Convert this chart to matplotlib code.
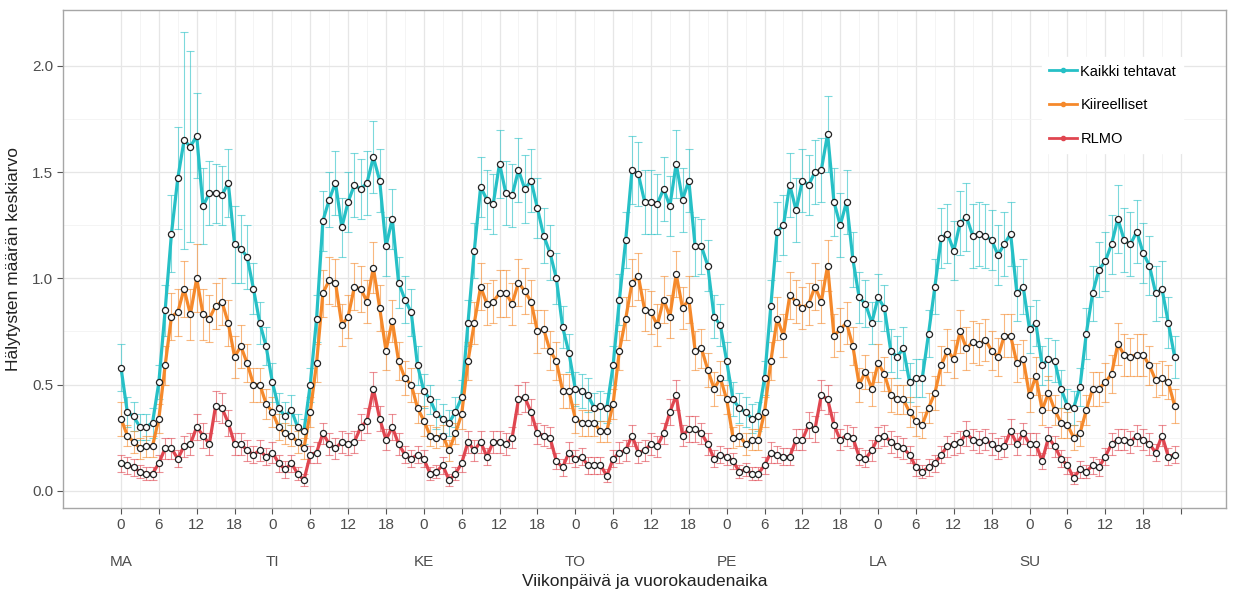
import matplotlib
matplotlib.use("Agg")
import matplotlib.pyplot as plt
from matplotlib.lines import Line2D
import numpy as np

plt.rcParams['font.family'] = ['Liberation Sans', 'DejaVu Sans']

days = ["MA", "TI", "KE", "TO", "PE", "LA", "SU"]
hour_ticks = [0, 6, 12, 18]
series_names = ["Kaikki tehtavat", "Kiireelliset", "RLMO"]
colors = ["#26C0C6", "#F5892B", "#E04650"]

# Kaikki tehtavat, one list per weekday (hours 0..23)
kaikki = [
    [0.58, 0.37, 0.35, 0.30, 0.30, 0.32, 0.51, 0.85, 1.21, 1.47, 1.65, 1.62, 1.67, 1.34, 1.40, 1.40, 1.39, 1.45, 1.16, 1.14, 1.10, 0.95, 0.79, 0.68],
    [0.51, 0.39, 0.35, 0.38, 0.30, 0.28, 0.50, 0.81, 1.27, 1.37, 1.45, 1.24, 1.36, 1.44, 1.42, 1.45, 1.57, 1.46, 1.15, 1.28, 0.98, 0.90, 0.84, 0.59],
    [0.47, 0.43, 0.36, 0.34, 0.32, 0.37, 0.44, 0.79, 1.13, 1.43, 1.37, 1.35, 1.54, 1.40, 1.39, 1.51, 1.42, 1.46, 1.33, 1.20, 1.12, 1.00, 0.77, 0.65],
    [0.48, 0.47, 0.45, 0.39, 0.40, 0.39, 0.59, 0.90, 1.18, 1.51, 1.49, 1.36, 1.36, 1.35, 1.42, 1.34, 1.54, 1.37, 1.46, 1.15, 1.15, 1.06, 0.82, 0.78],
    [0.61, 0.43, 0.39, 0.37, 0.34, 0.35, 0.53, 0.87, 1.22, 1.25, 1.44, 1.32, 1.46, 1.44, 1.50, 1.51, 1.68, 1.36, 1.25, 1.36, 1.09, 0.91, 0.88, 0.79],
    [0.91, 0.86, 0.66, 0.63, 0.67, 0.51, 0.53, 0.53, 0.74, 0.96, 1.19, 1.21, 1.13, 1.26, 1.29, 1.20, 1.21, 1.20, 1.18, 1.11, 1.16, 1.21, 0.93, 0.96],
    [0.76, 0.79, 0.59, 0.62, 0.61, 0.48, 0.40, 0.39, 0.49, 0.74, 0.93, 1.04, 1.08, 1.16, 1.28, 1.18, 1.16, 1.22, 1.12, 1.06, 0.93, 0.95, 0.79, 0.63],
]
kaikki_err = [
    [0.11, 0.07, 0.07, 0.06, 0.06, 0.07, 0.08, 0.12, 0.18, 0.24, 0.51, 0.45, 0.20, 0.18, 0.15, 0.14, 0.14, 0.16, 0.18, 0.16, 0.15, 0.12, 0.10, 0.09],
    [0.09, 0.07, 0.07, 0.07, 0.06, 0.06, 0.08, 0.11, 0.14, 0.13, 0.15, 0.14, 0.14, 0.15, 0.14, 0.15, 0.17, 0.15, 0.14, 0.14, 0.12, 0.11, 0.11, 0.09],
    [0.08, 0.07, 0.07, 0.07, 0.06, 0.07, 0.08, 0.11, 0.13, 0.14, 0.14, 0.14, 0.16, 0.15, 0.15, 0.15, 0.16, 0.15, 0.14, 0.13, 0.13, 0.12, 0.10, 0.09],
    [0.08, 0.08, 0.08, 0.07, 0.07, 0.07, 0.09, 0.12, 0.13, 0.16, 0.15, 0.15, 0.15, 0.14, 0.15, 0.14, 0.16, 0.15, 0.15, 0.14, 0.13, 0.12, 0.10, 0.10],
    [0.09, 0.08, 0.07, 0.07, 0.07, 0.07, 0.08, 0.12, 0.14, 0.14, 0.15, 0.15, 0.15, 0.14, 0.15, 0.15, 0.18, 0.16, 0.15, 0.15, 0.13, 0.12, 0.11, 0.10],
    [0.11, 0.11, 0.10, 0.10, 0.10, 0.09, 0.09, 0.09, 0.11, 0.13, 0.14, 0.14, 0.14, 0.15, 0.16, 0.15, 0.15, 0.15, 0.14, 0.14, 0.15, 0.15, 0.13, 0.13],
    [0.11, 0.11, 0.09, 0.10, 0.10, 0.09, 0.08, 0.08, 0.09, 0.12, 0.13, 0.13, 0.14, 0.14, 0.16, 0.15, 0.15, 0.15, 0.14, 0.14, 0.13, 0.13, 0.12, 0.10],
]

# Kiireelliset
kiireelliset = [
    [0.34, 0.26, 0.23, 0.20, 0.21, 0.21, 0.34, 0.59, 0.82, 0.84, 0.95, 0.83, 1.00, 0.83, 0.81, 0.87, 0.89, 0.79, 0.63, 0.68, 0.60, 0.50, 0.50, 0.41],
    [0.37, 0.30, 0.27, 0.26, 0.23, 0.20, 0.37, 0.60, 0.93, 0.99, 0.98, 0.78, 0.82, 0.96, 0.95, 0.89, 1.05, 0.86, 0.66, 0.80, 0.61, 0.53, 0.50, 0.39],
    [0.33, 0.26, 0.25, 0.26, 0.19, 0.27, 0.36, 0.61, 0.79, 0.96, 0.88, 0.89, 0.93, 0.93, 0.88, 0.98, 0.94, 0.89, 0.75, 0.76, 0.66, 0.61, 0.47, 0.47],
    [0.34, 0.32, 0.32, 0.32, 0.28, 0.28, 0.41, 0.66, 0.81, 0.98, 1.01, 0.85, 0.84, 0.78, 0.90, 0.82, 1.02, 0.86, 0.90, 0.66, 0.67, 0.57, 0.48, 0.53],
    [0.43, 0.25, 0.26, 0.22, 0.24, 0.24, 0.37, 0.61, 0.81, 0.73, 0.92, 0.89, 0.86, 0.88, 0.96, 0.89, 1.06, 0.73, 0.76, 0.79, 0.68, 0.50, 0.56, 0.48],
    [0.60, 0.55, 0.45, 0.43, 0.43, 0.37, 0.33, 0.31, 0.39, 0.46, 0.59, 0.66, 0.62, 0.75, 0.67, 0.70, 0.69, 0.71, 0.66, 0.63, 0.73, 0.73, 0.60, 0.62],
    [0.45, 0.54, 0.38, 0.46, 0.38, 0.32, 0.31, 0.25, 0.27, 0.38, 0.48, 0.48, 0.51, 0.55, 0.69, 0.64, 0.63, 0.64, 0.64, 0.59, 0.52, 0.53, 0.51, 0.40],
]
kiireelliset_err = [
    [0.08, 0.05, 0.05, 0.05, 0.05, 0.05, 0.07, 0.09, 0.11, 0.11, 0.13, 0.12, 0.16, 0.12, 0.11, 0.11, 0.11, 0.11, 0.10, 0.10, 0.09, 0.08, 0.08, 0.07],
    [0.07, 0.06, 0.05, 0.05, 0.05, 0.05, 0.07, 0.09, 0.11, 0.11, 0.11, 0.10, 0.10, 0.11, 0.11, 0.10, 0.12, 0.11, 0.09, 0.10, 0.09, 0.08, 0.08, 0.07],
    [0.07, 0.05, 0.05, 0.05, 0.05, 0.05, 0.07, 0.09, 0.10, 0.11, 0.10, 0.10, 0.11, 0.11, 0.10, 0.11, 0.11, 0.10, 0.10, 0.09, 0.09, 0.09, 0.08, 0.08],
    [0.07, 0.06, 0.06, 0.06, 0.05, 0.05, 0.07, 0.09, 0.10, 0.11, 0.11, 0.10, 0.10, 0.10, 0.11, 0.10, 0.11, 0.10, 0.11, 0.09, 0.09, 0.08, 0.08, 0.08],
    [0.07, 0.05, 0.05, 0.05, 0.05, 0.05, 0.07, 0.09, 0.10, 0.10, 0.11, 0.10, 0.10, 0.10, 0.11, 0.10, 0.12, 0.10, 0.10, 0.10, 0.09, 0.08, 0.08, 0.08],
    [0.09, 0.08, 0.08, 0.07, 0.07, 0.07, 0.07, 0.06, 0.07, 0.08, 0.09, 0.10, 0.09, 0.10, 0.10, 0.10, 0.10, 0.10, 0.09, 0.09, 0.10, 0.10, 0.09, 0.09],
    [0.08, 0.09, 0.07, 0.08, 0.07, 0.07, 0.06, 0.06, 0.06, 0.07, 0.08, 0.08, 0.09, 0.09, 0.10, 0.10, 0.09, 0.10, 0.10, 0.09, 0.08, 0.08, 0.08, 0.08],
]

# RLMO
rlmo = [
    [0.13, 0.12, 0.11, 0.09, 0.08, 0.08, 0.13, 0.20, 0.20, 0.15, 0.21, 0.22, 0.30, 0.26, 0.22, 0.40, 0.39, 0.32, 0.22, 0.22, 0.19, 0.17, 0.19, 0.16],
    [0.18, 0.13, 0.10, 0.13, 0.08, 0.05, 0.17, 0.18, 0.27, 0.22, 0.20, 0.23, 0.22, 0.23, 0.30, 0.33, 0.48, 0.34, 0.24, 0.30, 0.22, 0.17, 0.15, 0.17],
    [0.15, 0.08, 0.09, 0.12, 0.05, 0.08, 0.13, 0.23, 0.19, 0.23, 0.16, 0.23, 0.23, 0.22, 0.25, 0.43, 0.44, 0.37, 0.27, 0.26, 0.25, 0.14, 0.11, 0.18],
    [0.15, 0.16, 0.12, 0.12, 0.12, 0.07, 0.15, 0.18, 0.19, 0.26, 0.18, 0.19, 0.22, 0.21, 0.27, 0.37, 0.45, 0.26, 0.29, 0.29, 0.27, 0.22, 0.15, 0.17],
    [0.16, 0.14, 0.09, 0.10, 0.08, 0.08, 0.12, 0.18, 0.17, 0.16, 0.16, 0.24, 0.24, 0.31, 0.29, 0.45, 0.43, 0.31, 0.24, 0.26, 0.25, 0.16, 0.15, 0.19],
    [0.25, 0.26, 0.23, 0.21, 0.20, 0.17, 0.11, 0.09, 0.11, 0.13, 0.17, 0.21, 0.22, 0.23, 0.27, 0.24, 0.23, 0.24, 0.22, 0.20, 0.21, 0.28, 0.22, 0.27],
    [0.22, 0.22, 0.14, 0.25, 0.21, 0.15, 0.12, 0.06, 0.10, 0.09, 0.12, 0.11, 0.16, 0.22, 0.24, 0.24, 0.23, 0.26, 0.24, 0.22, 0.18, 0.26, 0.16, 0.17],
]
rlmo_err = [
    [0.04, 0.04, 0.04, 0.03, 0.03, 0.03, 0.04, 0.05, 0.05, 0.04, 0.05, 0.05, 0.06, 0.06, 0.05, 0.07, 0.07, 0.06, 0.05, 0.05, 0.05, 0.04, 0.05, 0.04],
    [0.05, 0.04, 0.04, 0.04, 0.03, 0.03, 0.04, 0.05, 0.05, 0.05, 0.05, 0.05, 0.05, 0.05, 0.06, 0.06, 0.08, 0.06, 0.05, 0.06, 0.05, 0.04, 0.04, 0.04],
    [0.04, 0.03, 0.03, 0.04, 0.03, 0.03, 0.04, 0.05, 0.05, 0.05, 0.04, 0.05, 0.05, 0.05, 0.05, 0.07, 0.07, 0.06, 0.05, 0.05, 0.05, 0.04, 0.04, 0.05],
    [0.04, 0.04, 0.04, 0.04, 0.04, 0.03, 0.04, 0.05, 0.05, 0.05, 0.05, 0.05, 0.05, 0.05, 0.05, 0.06, 0.07, 0.05, 0.06, 0.06, 0.05, 0.05, 0.04, 0.04],
    [0.04, 0.04, 0.03, 0.03, 0.03, 0.03, 0.04, 0.05, 0.04, 0.04, 0.04, 0.05, 0.05, 0.06, 0.06, 0.07, 0.07, 0.06, 0.05, 0.05, 0.05, 0.04, 0.04, 0.05],
    [0.05, 0.05, 0.05, 0.05, 0.05, 0.04, 0.04, 0.03, 0.04, 0.04, 0.04, 0.05, 0.05, 0.05, 0.06, 0.05, 0.05, 0.05, 0.05, 0.05, 0.05, 0.06, 0.05, 0.05],
    [0.05, 0.05, 0.04, 0.05, 0.05, 0.04, 0.04, 0.03, 0.04, 0.03, 0.04, 0.04, 0.04, 0.05, 0.05, 0.05, 0.05, 0.05, 0.05, 0.05, 0.04, 0.05, 0.04, 0.04],
]

values = [np.concatenate(kaikki), np.concatenate(kiireelliset), np.concatenate(rlmo)]
errors = [np.concatenate(kaikki_err), np.concatenate(kiireelliset_err), np.concatenate(rlmo_err)]
hours = np.arange(len(values[0]))

fig = plt.figure(figsize=(12.39, 5.99), dpi=100)
ax = fig.add_axes([0.0508, 0.152, 0.939, 0.831])

for vals, errs, col in zip(values, errors, colors):
    ax.errorbar(hours, vals, yerr=errs, fmt='none', ecolor=col, elinewidth=0.8,
                capsize=2.6, capthick=0.8, alpha=0.6, zorder=2)
for vals, col in zip(values, colors):
    ax.plot(hours, vals, color=col, lw=2.3, zorder=3, solid_joinstyle='round')
for vals in values:
    ax.plot(hours, vals, 'o', ms=4.4, mfc='white', mec='#222222', mew=0.9, zorder=4)

# axes styling
ax.set_xlim(-9.2, 175.2)
ax.set_ylim(-0.081, 2.262)
xt = [d * 24 + h for d in range(len(days)) for h in hour_ticks] + [24 * len(days)]
ax.set_xticks(xt)
ax.set_xticklabels([str(h) for d in range(len(days)) for h in hour_ticks] + [""])
ax.set_xticks([t + 3 for t in xt[:-1]], minor=True)
ax.set_yticks([0.0, 0.5, 1.0, 1.5, 2.0])
ax.set_yticklabels(["0.0", "0.5", "1.0", "1.5", "2.0"])
ax.set_yticks([0.25, 0.75, 1.25, 1.75], minor=True)
ax.grid(which='major', color='#E6E6E6', lw=0.9, zorder=0)
ax.grid(which='minor', color='#F3F3F3', lw=0.6, zorder=0)
ax.set_axisbelow(True)
for sp in ax.spines.values():
    sp.set_color('#A6A6A6')
    sp.set_linewidth(1.0)
ax.tick_params(which='major', length=4, color='#555555', labelsize=11,
               labelcolor='#4D4D4D', pad=3)
ax.tick_params(which='minor', length=0)

# weekday labels under hour 0 of each day
for d, name in enumerate(days):
    ax.text(d * 24, -0.108, name, transform=ax.get_xaxis_transform(),
            ha='center', va='center', fontsize=11, color='#4D4D4D')

ax.text(0.5, -0.148, "Viikonpäivä ja vuorokaudenaika", transform=ax.transAxes,
        ha='center', va='center', fontsize=12.5, color='#222222')
ax.set_ylabel("Hälytysten määrän keskiarvo", fontsize=12.5, color='#222222', labelpad=8)

handles = [Line2D([], [], color=c, lw=2, marker='o', ms=3, mfc=c, mec=c) for c in colors]
leg = ax.legend(handles, series_names, loc='upper left', bbox_to_anchor=(0.835, 0.92),
                frameon=True, fontsize=10.5, handlelength=1.9, handletextpad=0.25,
                labelspacing=1.35, borderpad=0.5)
leg.get_frame().set_edgecolor('white')
leg.get_frame().set_facecolor('white')
leg.get_frame().set_alpha(1.0)

fig.savefig("out.png", dpi=100)
